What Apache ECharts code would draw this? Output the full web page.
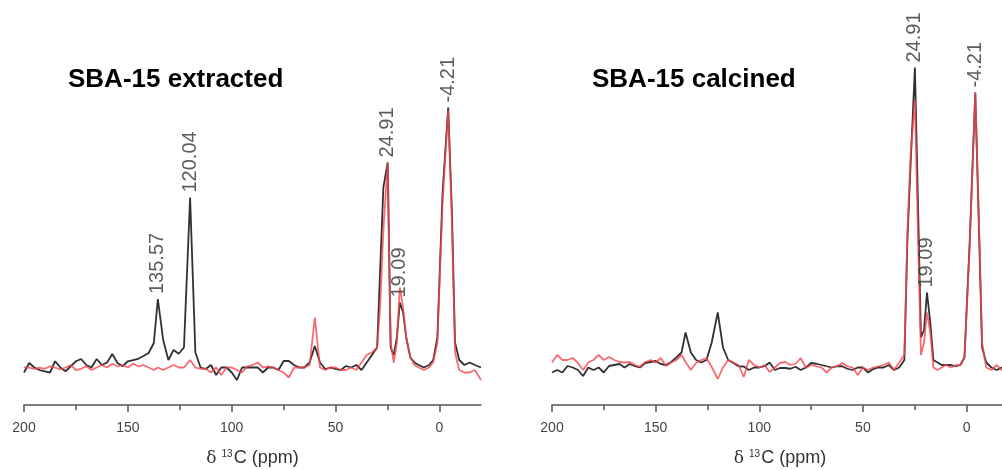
<!DOCTYPE html>
<html>
<head>
<meta charset="utf-8">
<script src="https://cdn.jsdelivr.net/npm/echarts@6/dist/echarts.min.js"></script>
<style>
  html, body { margin: 0; padding: 0; background: #fff; }
  #chart { width: 1002px; height: 470px; }
</style>
</head>
<body>
<div id="chart"></div>
<script>
// Chemical shift positions (ppm) shared by all four spectra
const ppm = [
  200, 197.5, 195, 192.5, 190, 187.5, 185, 182.5, 180, 177.5,
  175, 172.5, 170, 167.5, 165, 162.5, 160, 157.5, 155, 152.5,
  150, 147.5, 145, 142.5, 140, 137.5, 135.57, 133, 130.5, 128,
  125.5, 123, 120.04, 117.5, 115, 112.5, 110, 107.5, 105, 102.5,
  100, 97.5, 95, 92.5, 90, 87.5, 85, 82.5, 80, 77.5,
  75, 72.5, 70, 67.5, 65, 62.5, 60, 57.5, 55, 52.5,
  50, 47.5, 45, 42.5, 40, 37.5, 35, 32.5, 30, 28.5,
  27, 24.91, 23.5, 22, 20.5, 19.09, 17.5, 16, 14, 12,
  10, 7.5, 5, 3, 1, -1.5, -4.21, -6, -7.5, -9.5,
  -12, -14.5, -17, -20
];

// SBA-15 extracted: intensities (a.u.)
const extractedBlack = [
  -2, 1.8, 0, -1, -1.5, -2, 2.5, 0, -1.5, 0.5,
  2.5, 3.4, 1, 0, 3.4, 1, 2, 5.4, 1.8, 0.5,
  2.5, 3, 3.5, 4.6, 5.8, 9.8, 27.4, 11, 3, 7,
  5.5, 8, 68, 6, 0, -0.6, 1, -3, 0, 0,
  -2, -5, 0, 0, 0, 0, -2, 0, 0, -1,
  2.6, 2.6, 1, 0, 0, 2, 8.6, 2, -0.6, 0,
  -0.5, -1, 0.6, 0, 1, -1, 2, 5, 8, 40,
  72, 82, 8, 5, 12, 26, 22, 12, 4, 2,
  1, 0, 1, 3, 12, 70, 104, 62, 10, 3,
  1, 2, 1, 0
];
const extractedRed = [
  0, 0, -0.5, 0, -0.5, 0.5, 0, -0.8, 0, 1,
  -1, -0.5, 0.5, -1, 0, 1, 0, 1.5, 0.5, 1,
  0, 1.5, 0.5, 1, 0, -1, 0, -1, 0, 1,
  0, 0, 3, 0, -0.5, -0.5, -2, 0, -3, 0,
  0, -1, -2, 0.5, 1, 2, 0, 0.5, 0, -1,
  -2, -4, 0, 0, 0, 1, 20, 0, -1, 0,
  0, -1, -1, 0, -1, 2, 5, 6, 8, 25,
  55, 82, 10, 2, 10, 32, 24, 12, 4, 1,
  0, -1, 0, 2, 10, 66, 103, 58, 6, -1,
  -2, -2, -1, -5
];

// SBA-15 calcined: intensities (a.u.)
const calcinedBlack = [
  -2, -1, -2, 0.6, 0, -1, -3.4, 0, -1, 0,
  -2, 0.6, 1, 1.4, 0, 1.4, 0.5, 0, 1.8, 2.2,
  2.6, 1.4, 1, 2.2, 4, 6, 14, 6, 3, 2,
  3, 9.8, 22, 8, 3, 1.8, 0.5, 0.4, -1, 0,
  0, 0.5, 2, -1, -0.2, -0.2, -0.5, 0.3, -1, 0,
  1.8, 1.5, 1, 0.5, 0, 0.5, 0.5, -0.5, -1, 0,
  0, -2, -0.6, 0, 0, 1, -1, 0, 3, 52,
  81, 120, 68, 12, 15, 30, 18, 3, 2, 1,
  1, 1, 0.5, 1, 4, 50, 110, 55, 8, 2,
  0, -1, 0, -1
];
const calcinedRed = [
  2, 5, 3, 3, 3.8, 1.8, -1, 2, 3, 5,
  3, 4.2, 3, 2.2, 2, 2.2, 1, 0.3, 2.2, 3,
  2, 3.8, 0.6, 2, 3, 5, 2.2, -1, 1.8, 3,
  3.8, 0.3, -4.6, 0, 3, 2, 1, -3.8, 3, 1,
  0, 1, -1.8, 0, 1.8, 2.2, 1, 1.5, 3.8, -0.2,
  1, 0.5, 0, -2, 0, 0.5, 1.8, 0.5, 0, -3,
  0, -1, 0, 0.5, 1, 2, -1, 2, 5, 55,
  85, 107, 55, 5, 10, 22, 14, 0, -1, 0,
  1, 0, 1, 1, 4, 48, 110, 58, 10, 0,
  -1, 1, -1, 0
];

// Labelled peak positions (ppm)
const extractedPeaks = [135.57, 120.04, 24.91, 19.09, -4.21];
const calcinedPeaks = [24.91, 19.09, -4.21];

// Axis ticks
const majorTicks = [200, 150, 100, 50, 0];
const minorTicks = [175, 125, 75, 25];

const panelTitles = ['SBA-15 extracted', 'SBA-15 calcined'];

const FONT = "'Liberation Sans', Arial, sans-serif";
const AXIS_COLOR = '#555';

function pairs(xs, ys) {
  return xs.map((x, i) => [x, ys[i]]);
}

function peakPoints(peaks, ys) {
  return peaks.map(p => [p, ys[ppm.indexOf(p)]]);
}

function mainAxis(gridIndex) {
  return {
    type: 'value', gridIndex: gridIndex, inverse: true, min: -20, max: 200,
    position: 'bottom',
    axisLine: { onZero: false, lineStyle: { color: AXIS_COLOR, width: 1.5 } },
    axisTick: { customValues: majorTicks, length: 7, lineStyle: { color: AXIS_COLOR, width: 1.5 } },
    axisLabel: { customValues: majorTicks, color: '#444', fontSize: 14, margin: 16, fontFamily: FONT },
    splitLine: { show: false },
    name: '{g|δ} {sup|13}{t|C (ppm)}',
    nameLocation: 'middle',
    nameGap: 44,
    nameTextStyle: {
      color: '#333', fontSize: 18, fontFamily: FONT,
      rich: {
        g: { fontFamily: "'DejaVu Serif', serif", fontSize: 17, color: '#333' },
        sup: { fontFamily: FONT, fontSize: 10, color: '#333', padding: [0, 1, 9, 0] },
        t: { fontFamily: FONT, fontSize: 18, color: '#333' }
      }
    }
  };
}

function minorAxis(gridIndex) {
  return {
    type: 'value', gridIndex: gridIndex, inverse: true, min: -20, max: 200,
    position: 'bottom', offset: 0,
    axisLine: { show: false, onZero: false },
    axisTick: { customValues: minorTicks, length: 5, lineStyle: { color: AXIS_COLOR, width: 1.5 } },
    axisLabel: { show: false },
    splitLine: { show: false }
  };
}

function spectrum(xIdx, yIdx, ys, color, z) {
  return {
    type: 'line', xAxisIndex: xIdx, yAxisIndex: yIdx,
    data: pairs(ppm, ys), showSymbol: false, symbol: 'none',
    lineStyle: { color: color, width: 1.8 }, z: z, silent: true
  };
}

function peakLabels(xIdx, yIdx, peaks, ys) {
  return {
    type: 'scatter', xAxisIndex: xIdx, yAxisIndex: yIdx,
    data: peakPoints(peaks, ys), symbolSize: 0, z: 5, silent: true,
    label: {
      show: true, rotate: 90, position: 'top', distance: 5,
      align: 'left', verticalAlign: 'middle',
      formatter: p => p.value[0].toFixed(2),
      fontSize: 20, color: '#333', fontFamily: FONT
    }
  };
}

const BLACK = 'rgba(20,20,20,0.88)';
const RED = 'rgba(245,70,82,0.8)';

const option = {
  animation: false,
  backgroundColor: '#fff',
  title: [
    { text: panelTitles[0], left: 68, top: 67, padding: 0,
      textStyle: { fontSize: 26, fontWeight: 'bold', color: '#000', fontFamily: FONT } },
    { text: panelTitles[1], left: 592, top: 67, padding: 0,
      textStyle: { fontSize: 26, fontWeight: 'bold', color: '#000', fontFamily: FONT } }
  ],
  grid: [
    { left: 24, width: 457, top: 5, bottom: 65, outerBoundsMode: 'none' },
    { left: 552, width: 456, top: 5, bottom: 65, outerBoundsMode: 'none' }
  ],
  xAxis: [mainAxis(0), minorAxis(0), mainAxis(1), minorAxis(1)],
  yAxis: [
    { type: 'value', gridIndex: 0, min: -15, max: 145, show: false },
    { type: 'value', gridIndex: 1, min: -15, max: 145, show: false }
  ],
  series: [
    spectrum(0, 0, extractedBlack, BLACK, 2),
    spectrum(0, 0, extractedRed, RED, 3),
    spectrum(2, 1, calcinedBlack, BLACK, 2),
    spectrum(2, 1, calcinedRed, RED, 3),
    peakLabels(0, 0, extractedPeaks, extractedBlack),
    peakLabels(2, 1, calcinedPeaks, calcinedBlack)
  ]
};

const chart = echarts.init(document.getElementById('chart'), null, { renderer: 'canvas' });
chart.setOption(option);
</script>
</body>
</html>
